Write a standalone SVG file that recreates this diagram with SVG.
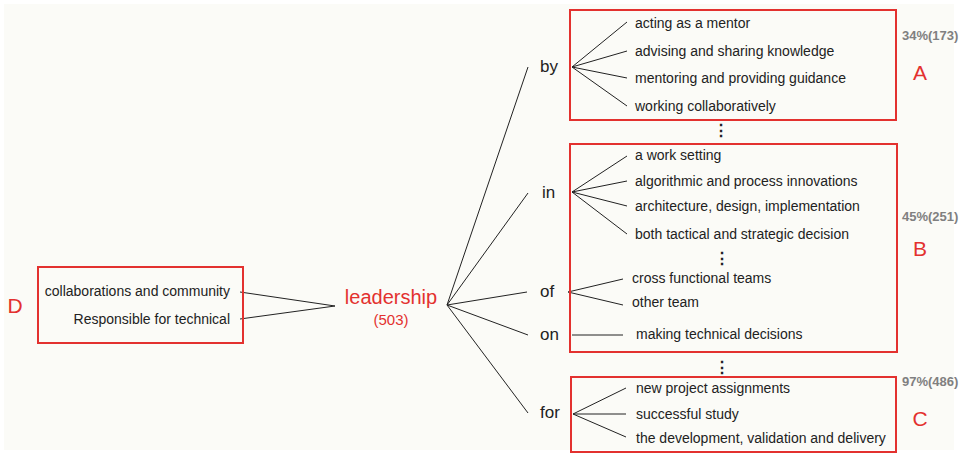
<svg xmlns="http://www.w3.org/2000/svg" width="964" height="456" viewBox="0 0 964 456">
<style>
text{font-family:"Liberation Sans",Arial,sans-serif;fill:#222}
.t{font-size:14px}
.p{font-size:17px}
.red{fill:#e3312f}
.box{fill:none;stroke:#e3312f;stroke-width:2}
.pct{font-size:13px;font-weight:bold;fill:#808080}
.big{font-size:21px;fill:#e3312f}
.dots{font-size:16px;font-weight:bold}
#connectors line{stroke:#222;stroke-width:1}
</style>
<rect x="0" y="0" width="964" height="456" fill="#ffffff"/>
<rect x="4" y="4" width="950" height="446" fill="#fbfbf7"/>
<g id="connectors">
<line x1="240" y1="292" x2="335" y2="306"/>
<line x1="240" y1="319" x2="335" y2="306"/>
<line x1="447" y1="305" x2="528" y2="67"/>
<line x1="447" y1="305" x2="528" y2="193"/>
<line x1="447" y1="305" x2="527" y2="292"/>
<line x1="447" y1="305" x2="528" y2="335"/>
<line x1="447" y1="305" x2="528" y2="413"/>
<line x1="572" y1="67" x2="627" y2="22"/>
<line x1="572" y1="67" x2="627" y2="51"/>
<line x1="572" y1="67" x2="627" y2="78"/>
<line x1="572" y1="67" x2="627" y2="106"/>
<line x1="572" y1="192" x2="627" y2="156"/>
<line x1="572" y1="192" x2="627" y2="181"/>
<line x1="572" y1="192" x2="627" y2="206"/>
<line x1="572" y1="192" x2="627" y2="234"/>
<line x1="568" y1="292" x2="623" y2="279"/>
<line x1="568" y1="292" x2="623" y2="305"/>
<line x1="572" y1="335" x2="623" y2="335"/>
<line x1="573" y1="414" x2="626" y2="388"/>
<line x1="573" y1="414" x2="626" y2="414"/>
<line x1="573" y1="414" x2="626" y2="437"/>
</g>
<g id="D">
<rect class="box" x="38" y="267" width="205" height="76"/>
<text class="t" x="230" y="296" text-anchor="end">collaborations and community</text>
<text class="t" x="230" y="324" text-anchor="end">Responsible for technical</text>
<text class="big" x="15" y="313" text-anchor="middle">D</text>
</g>
<g id="leadership">
<text x="391" y="304" text-anchor="middle" style="font-size:20px" class="red">leadership</text>
<text x="391" y="325" text-anchor="middle" style="font-size:15px" class="red">(503)</text>
</g>
<g id="by"><text class="p" x="540" y="72">by</text></g>
<g id="in"><text class="p" x="542" y="198">in</text></g>
<g id="of"><text class="p" x="540" y="297">of</text></g>
<g id="on"><text class="p" x="540" y="340">on</text></g>
<g id="for"><text class="p" x="540" y="418">for</text></g>
<g id="A">
<rect class="box" x="570" y="10" width="326" height="110"/>
<text class="t" x="635" y="28">acting as a mentor</text>
<text class="t" x="635" y="56">advising and sharing knowledge</text>
<text class="t" x="635" y="83">mentoring and providing guidance</text>
<text class="t" x="635" y="111">working collaboratively</text>
<text class="pct" x="902" y="40">34%(173)</text>
<text class="big" x="920" y="80" text-anchor="middle">A</text>
</g>
<text class="dots" x="721" y="136" text-anchor="middle">⋮</text>
<g id="B">
<rect class="box" x="570" y="144" width="327" height="208"/>
<text class="t" x="635" y="160">a work setting</text>
<text class="t" x="635" y="186">algorithmic and process innovations</text>
<text class="t" x="635" y="211">architecture, design, implementation</text>
<text class="t" x="635" y="239">both tactical and strategic decision</text>
<text class="dots" x="722" y="264" text-anchor="middle">⋮</text>
<text class="t" x="632" y="283">cross functional teams</text>
<text class="t" x="632" y="307">other team</text>
<text class="t" x="636" y="339">making technical decisions</text>
<text class="pct" x="902" y="221">45%(251)</text>
<text class="big" x="920" y="256" text-anchor="middle">B</text>
</g>
<text class="dots" x="722" y="373" text-anchor="middle">⋮</text>
<g id="C">
<rect class="box" x="571" y="377" width="325" height="75"/>
<text class="t" x="636" y="393">new project assignments</text>
<text class="t" x="636" y="419">successful study</text>
<text class="t" x="636" y="443">the development, validation and delivery</text>
<text class="pct" x="902" y="386">97%(486)</text>
<text class="big" x="920" y="426" text-anchor="middle">C</text>
</g>
</svg>
